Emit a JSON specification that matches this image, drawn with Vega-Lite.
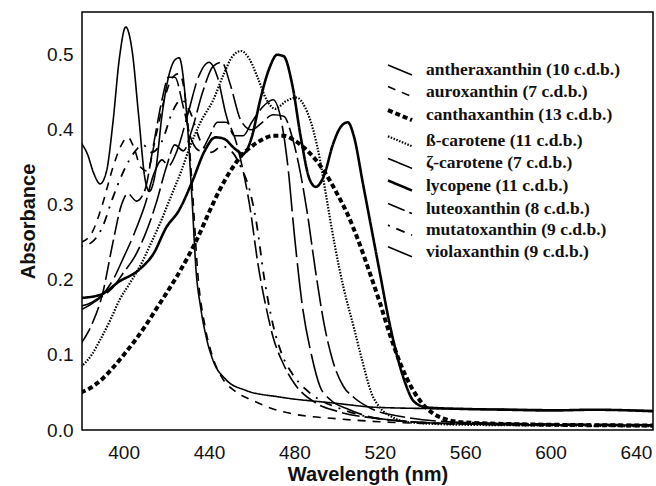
{
  "$schema": "https://vega.github.io/schema/vega-lite/v6.json",
  "width": 571,
  "height": 418,
  "autosize": {"type": "none"},
  "padding": {"left": 82, "top": 12, "right": 3, "bottom": 56},
  "config": {
    "view": {"stroke": "#000", "strokeWidth": 1.5},
    "axis": {"grid": false, "ticks": false, "domain": false, "labelFont": "Liberation Sans", "labelFontSize": 19, "labelColor": "#111", "titleFont": "Liberation Sans", "titleFontSize": 20, "titleFontWeight": "bold", "titleColor": "#111"}
  },
  "data": {"values": [
    {"p":"ζ-carotene (7 c.d.b.)","x":380,"y":0.383},{"p":"ζ-carotene (7 c.d.b.)","x":383,"y":0.368},{"p":"ζ-carotene (7 c.d.b.)","x":386,"y":0.342},{"p":"ζ-carotene (7 c.d.b.)","x":389,"y":0.328},{"p":"ζ-carotene (7 c.d.b.)","x":392,"y":0.345},{"p":"ζ-carotene (7 c.d.b.)","x":395,"y":0.41},{"p":"ζ-carotene (7 c.d.b.)","x":398,"y":0.495},{"p":"ζ-carotene (7 c.d.b.)","x":401,"y":0.537},{"p":"ζ-carotene (7 c.d.b.)","x":404,"y":0.505},{"p":"ζ-carotene (7 c.d.b.)","x":407,"y":0.42},{"p":"ζ-carotene (7 c.d.b.)","x":410,"y":0.335},{"p":"ζ-carotene (7 c.d.b.)","x":412,"y":0.318},{"p":"ζ-carotene (7 c.d.b.)","x":415,"y":0.345},{"p":"ζ-carotene (7 c.d.b.)","x":418,"y":0.42},{"p":"ζ-carotene (7 c.d.b.)","x":421,"y":0.47},{"p":"ζ-carotene (7 c.d.b.)","x":424,"y":0.493},{"p":"ζ-carotene (7 c.d.b.)","x":426,"y":0.496},{"p":"ζ-carotene (7 c.d.b.)","x":429,"y":0.44},{"p":"ζ-carotene (7 c.d.b.)","x":432,"y":0.31},{"p":"ζ-carotene (7 c.d.b.)","x":434,"y":0.21},{"p":"ζ-carotene (7 c.d.b.)","x":436,"y":0.165},{"p":"ζ-carotene (7 c.d.b.)","x":439,"y":0.12},{"p":"ζ-carotene (7 c.d.b.)","x":442,"y":0.092},{"p":"ζ-carotene (7 c.d.b.)","x":448,"y":0.067},{"p":"ζ-carotene (7 c.d.b.)","x":457,"y":0.053},{"p":"ζ-carotene (7 c.d.b.)","x":473,"y":0.044},{"p":"ζ-carotene (7 c.d.b.)","x":498,"y":0.036},{"p":"ζ-carotene (7 c.d.b.)","x":520,"y":0.03},{"p":"ζ-carotene (7 c.d.b.)","x":560,"y":0.028},{"p":"ζ-carotene (7 c.d.b.)","x":600,"y":0.027},{"p":"ζ-carotene (7 c.d.b.)","x":648,"y":0.026},

    {"p":"lycopene (11 c.d.b.)","x":380,"y":0.176},{"p":"lycopene (11 c.d.b.)","x":389,"y":0.18},{"p":"lycopene (11 c.d.b.)","x":398,"y":0.198},{"p":"lycopene (11 c.d.b.)","x":407,"y":0.213},{"p":"lycopene (11 c.d.b.)","x":414,"y":0.235},{"p":"lycopene (11 c.d.b.)","x":420,"y":0.27},{"p":"lycopene (11 c.d.b.)","x":426,"y":0.293},{"p":"lycopene (11 c.d.b.)","x":432,"y":0.33},{"p":"lycopene (11 c.d.b.)","x":438,"y":0.372},{"p":"lycopene (11 c.d.b.)","x":443,"y":0.39},{"p":"lycopene (11 c.d.b.)","x":447,"y":0.388},{"p":"lycopene (11 c.d.b.)","x":452,"y":0.375},{"p":"lycopene (11 c.d.b.)","x":456,"y":0.368},{"p":"lycopene (11 c.d.b.)","x":460,"y":0.39},{"p":"lycopene (11 c.d.b.)","x":464,"y":0.44},{"p":"lycopene (11 c.d.b.)","x":468,"y":0.48},{"p":"lycopene (11 c.d.b.)","x":472,"y":0.5},{"p":"lycopene (11 c.d.b.)","x":475,"y":0.498},{"p":"lycopene (11 c.d.b.)","x":479,"y":0.46},{"p":"lycopene (11 c.d.b.)","x":483,"y":0.39},{"p":"lycopene (11 c.d.b.)","x":487,"y":0.335},{"p":"lycopene (11 c.d.b.)","x":490,"y":0.324},{"p":"lycopene (11 c.d.b.)","x":494,"y":0.34},{"p":"lycopene (11 c.d.b.)","x":498,"y":0.38},{"p":"lycopene (11 c.d.b.)","x":502,"y":0.405},{"p":"lycopene (11 c.d.b.)","x":505,"y":0.41},{"p":"lycopene (11 c.d.b.)","x":508,"y":0.39},{"p":"lycopene (11 c.d.b.)","x":512,"y":0.33},{"p":"lycopene (11 c.d.b.)","x":516,"y":0.27},{"p":"lycopene (11 c.d.b.)","x":520,"y":0.21},{"p":"lycopene (11 c.d.b.)","x":524,"y":0.15},{"p":"lycopene (11 c.d.b.)","x":528,"y":0.1},{"p":"lycopene (11 c.d.b.)","x":532,"y":0.062},{"p":"lycopene (11 c.d.b.)","x":536,"y":0.038},{"p":"lycopene (11 c.d.b.)","x":542,"y":0.03},{"p":"lycopene (11 c.d.b.)","x":560,"y":0.028},{"p":"lycopene (11 c.d.b.)","x":580,"y":0.027},{"p":"lycopene (11 c.d.b.)","x":600,"y":0.026},{"p":"lycopene (11 c.d.b.)","x":620,"y":0.027},{"p":"lycopene (11 c.d.b.)","x":648,"y":0.025},

    {"p":"ß-carotene (11 c.d.b.)","x":380,"y":0.084},{"p":"ß-carotene (11 c.d.b.)","x":385,"y":0.1},{"p":"ß-carotene (11 c.d.b.)","x":389,"y":0.12},{"p":"ß-carotene (11 c.d.b.)","x":394,"y":0.148},{"p":"ß-carotene (11 c.d.b.)","x":398,"y":0.173},{"p":"ß-carotene (11 c.d.b.)","x":403,"y":0.196},{"p":"ß-carotene (11 c.d.b.)","x":408,"y":0.22},{"p":"ß-carotene (11 c.d.b.)","x":413,"y":0.25},{"p":"ß-carotene (11 c.d.b.)","x":417,"y":0.275},{"p":"ß-carotene (11 c.d.b.)","x":422,"y":0.31},{"p":"ß-carotene (11 c.d.b.)","x":427,"y":0.345},{"p":"ß-carotene (11 c.d.b.)","x":431,"y":0.377},{"p":"ß-carotene (11 c.d.b.)","x":436,"y":0.41},{"p":"ß-carotene (11 c.d.b.)","x":442,"y":0.44},{"p":"ß-carotene (11 c.d.b.)","x":447,"y":0.475},{"p":"ß-carotene (11 c.d.b.)","x":451,"y":0.498},{"p":"ß-carotene (11 c.d.b.)","x":455,"y":0.505},{"p":"ß-carotene (11 c.d.b.)","x":459,"y":0.494},{"p":"ß-carotene (11 c.d.b.)","x":463,"y":0.468},{"p":"ß-carotene (11 c.d.b.)","x":467,"y":0.44},{"p":"ß-carotene (11 c.d.b.)","x":471,"y":0.428},{"p":"ß-carotene (11 c.d.b.)","x":476,"y":0.438},{"p":"ß-carotene (11 c.d.b.)","x":481,"y":0.443},{"p":"ß-carotene (11 c.d.b.)","x":485,"y":0.43},{"p":"ß-carotene (11 c.d.b.)","x":489,"y":0.398},{"p":"ß-carotene (11 c.d.b.)","x":492,"y":0.36},{"p":"ß-carotene (11 c.d.b.)","x":495,"y":0.31},{"p":"ß-carotene (11 c.d.b.)","x":499,"y":0.245},{"p":"ß-carotene (11 c.d.b.)","x":503,"y":0.19},{"p":"ß-carotene (11 c.d.b.)","x":508,"y":0.135},{"p":"ß-carotene (11 c.d.b.)","x":512,"y":0.09},{"p":"ß-carotene (11 c.d.b.)","x":516,"y":0.05},{"p":"ß-carotene (11 c.d.b.)","x":520,"y":0.03},{"p":"ß-carotene (11 c.d.b.)","x":526,"y":0.017},{"p":"ß-carotene (11 c.d.b.)","x":535,"y":0.01},{"p":"ß-carotene (11 c.d.b.)","x":560,"y":0.007},{"p":"ß-carotene (11 c.d.b.)","x":600,"y":0.006},{"p":"ß-carotene (11 c.d.b.)","x":648,"y":0.005},

    {"p":"canthaxanthin (13 c.d.b.)","x":380,"y":0.05},{"p":"canthaxanthin (13 c.d.b.)","x":385,"y":0.057},{"p":"canthaxanthin (13 c.d.b.)","x":390,"y":0.068},{"p":"canthaxanthin (13 c.d.b.)","x":395,"y":0.083},{"p":"canthaxanthin (13 c.d.b.)","x":400,"y":0.1},{"p":"canthaxanthin (13 c.d.b.)","x":405,"y":0.118},{"p":"canthaxanthin (13 c.d.b.)","x":410,"y":0.138},{"p":"canthaxanthin (13 c.d.b.)","x":415,"y":0.16},{"p":"canthaxanthin (13 c.d.b.)","x":420,"y":0.182},{"p":"canthaxanthin (13 c.d.b.)","x":425,"y":0.205},{"p":"canthaxanthin (13 c.d.b.)","x":430,"y":0.23},{"p":"canthaxanthin (13 c.d.b.)","x":435,"y":0.258},{"p":"canthaxanthin (13 c.d.b.)","x":440,"y":0.29},{"p":"canthaxanthin (13 c.d.b.)","x":445,"y":0.32},{"p":"canthaxanthin (13 c.d.b.)","x":450,"y":0.345},{"p":"canthaxanthin (13 c.d.b.)","x":455,"y":0.365},{"p":"canthaxanthin (13 c.d.b.)","x":460,"y":0.378},{"p":"canthaxanthin (13 c.d.b.)","x":465,"y":0.387},{"p":"canthaxanthin (13 c.d.b.)","x":470,"y":0.392},{"p":"canthaxanthin (13 c.d.b.)","x":475,"y":0.392},{"p":"canthaxanthin (13 c.d.b.)","x":480,"y":0.386},{"p":"canthaxanthin (13 c.d.b.)","x":485,"y":0.375},{"p":"canthaxanthin (13 c.d.b.)","x":490,"y":0.36},{"p":"canthaxanthin (13 c.d.b.)","x":495,"y":0.34},{"p":"canthaxanthin (13 c.d.b.)","x":500,"y":0.315},{"p":"canthaxanthin (13 c.d.b.)","x":505,"y":0.287},{"p":"canthaxanthin (13 c.d.b.)","x":510,"y":0.252},{"p":"canthaxanthin (13 c.d.b.)","x":515,"y":0.212},{"p":"canthaxanthin (13 c.d.b.)","x":520,"y":0.17},{"p":"canthaxanthin (13 c.d.b.)","x":525,"y":0.125},{"p":"canthaxanthin (13 c.d.b.)","x":530,"y":0.086},{"p":"canthaxanthin (13 c.d.b.)","x":535,"y":0.056},{"p":"canthaxanthin (13 c.d.b.)","x":540,"y":0.035},{"p":"canthaxanthin (13 c.d.b.)","x":545,"y":0.022},{"p":"canthaxanthin (13 c.d.b.)","x":550,"y":0.015},{"p":"canthaxanthin (13 c.d.b.)","x":560,"y":0.01},{"p":"canthaxanthin (13 c.d.b.)","x":600,"y":0.007},{"p":"canthaxanthin (13 c.d.b.)","x":648,"y":0.006},

    {"p":"auroxanthin (7 c.d.b.)","x":380,"y":0.25},{"p":"auroxanthin (7 c.d.b.)","x":385,"y":0.262},{"p":"auroxanthin (7 c.d.b.)","x":390,"y":0.3},{"p":"auroxanthin (7 c.d.b.)","x":395,"y":0.35},{"p":"auroxanthin (7 c.d.b.)","x":399,"y":0.38},{"p":"auroxanthin (7 c.d.b.)","x":402,"y":0.39},{"p":"auroxanthin (7 c.d.b.)","x":405,"y":0.375},{"p":"auroxanthin (7 c.d.b.)","x":408,"y":0.35},{"p":"auroxanthin (7 c.d.b.)","x":411,"y":0.345},{"p":"auroxanthin (7 c.d.b.)","x":415,"y":0.39},{"p":"auroxanthin (7 c.d.b.)","x":419,"y":0.44},{"p":"auroxanthin (7 c.d.b.)","x":423,"y":0.47},{"p":"auroxanthin (7 c.d.b.)","x":426,"y":0.475},{"p":"auroxanthin (7 c.d.b.)","x":429,"y":0.44},{"p":"auroxanthin (7 c.d.b.)","x":432,"y":0.33},{"p":"auroxanthin (7 c.d.b.)","x":435,"y":0.2},{"p":"auroxanthin (7 c.d.b.)","x":438,"y":0.14},{"p":"auroxanthin (7 c.d.b.)","x":442,"y":0.095},{"p":"auroxanthin (7 c.d.b.)","x":446,"y":0.07},{"p":"auroxanthin (7 c.d.b.)","x":452,"y":0.052},{"p":"auroxanthin (7 c.d.b.)","x":460,"y":0.04},{"p":"auroxanthin (7 c.d.b.)","x":470,"y":0.028},{"p":"auroxanthin (7 c.d.b.)","x":480,"y":0.021},{"p":"auroxanthin (7 c.d.b.)","x":500,"y":0.015},{"p":"auroxanthin (7 c.d.b.)","x":520,"y":0.011},{"p":"auroxanthin (7 c.d.b.)","x":560,"y":0.008},{"p":"auroxanthin (7 c.d.b.)","x":648,"y":0.006},

    {"p":"mutatoxanthin (9 c.d.b.)","x":380,"y":0.245},{"p":"mutatoxanthin (9 c.d.b.)","x":385,"y":0.25},{"p":"mutatoxanthin (9 c.d.b.)","x":390,"y":0.27},{"p":"mutatoxanthin (9 c.d.b.)","x":395,"y":0.31},{"p":"mutatoxanthin (9 c.d.b.)","x":400,"y":0.345},{"p":"mutatoxanthin (9 c.d.b.)","x":405,"y":0.37},{"p":"mutatoxanthin (9 c.d.b.)","x":409,"y":0.38},{"p":"mutatoxanthin (9 c.d.b.)","x":413,"y":0.37},{"p":"mutatoxanthin (9 c.d.b.)","x":418,"y":0.385},{"p":"mutatoxanthin (9 c.d.b.)","x":423,"y":0.425},{"p":"mutatoxanthin (9 c.d.b.)","x":427,"y":0.44},{"p":"mutatoxanthin (9 c.d.b.)","x":431,"y":0.425},{"p":"mutatoxanthin (9 c.d.b.)","x":436,"y":0.385},{"p":"mutatoxanthin (9 c.d.b.)","x":441,"y":0.37},{"p":"mutatoxanthin (9 c.d.b.)","x":446,"y":0.378},{"p":"mutatoxanthin (9 c.d.b.)","x":451,"y":0.37},{"p":"mutatoxanthin (9 c.d.b.)","x":455,"y":0.35},{"p":"mutatoxanthin (9 c.d.b.)","x":459,"y":0.32},{"p":"mutatoxanthin (9 c.d.b.)","x":462,"y":0.28},{"p":"mutatoxanthin (9 c.d.b.)","x":466,"y":0.2},{"p":"mutatoxanthin (9 c.d.b.)","x":470,"y":0.14},{"p":"mutatoxanthin (9 c.d.b.)","x":474,"y":0.102},{"p":"mutatoxanthin (9 c.d.b.)","x":479,"y":0.075},{"p":"mutatoxanthin (9 c.d.b.)","x":485,"y":0.055},{"p":"mutatoxanthin (9 c.d.b.)","x":492,"y":0.04},{"p":"mutatoxanthin (9 c.d.b.)","x":500,"y":0.03},{"p":"mutatoxanthin (9 c.d.b.)","x":520,"y":0.015},{"p":"mutatoxanthin (9 c.d.b.)","x":560,"y":0.008},{"p":"mutatoxanthin (9 c.d.b.)","x":648,"y":0.006},

    {"p":"luteoxanthin (8 c.d.b.)","x":380,"y":0.115},{"p":"luteoxanthin (8 c.d.b.)","x":385,"y":0.14},{"p":"luteoxanthin (8 c.d.b.)","x":390,"y":0.18},{"p":"luteoxanthin (8 c.d.b.)","x":395,"y":0.25},{"p":"luteoxanthin (8 c.d.b.)","x":399,"y":0.3},{"p":"luteoxanthin (8 c.d.b.)","x":402,"y":0.315},{"p":"luteoxanthin (8 c.d.b.)","x":406,"y":0.305},{"p":"luteoxanthin (8 c.d.b.)","x":410,"y":0.32},{"p":"luteoxanthin (8 c.d.b.)","x":414,"y":0.38},{"p":"luteoxanthin (8 c.d.b.)","x":418,"y":0.44},{"p":"luteoxanthin (8 c.d.b.)","x":421,"y":0.47},{"p":"luteoxanthin (8 c.d.b.)","x":424,"y":0.47},{"p":"luteoxanthin (8 c.d.b.)","x":428,"y":0.43},{"p":"luteoxanthin (8 c.d.b.)","x":432,"y":0.385},{"p":"luteoxanthin (8 c.d.b.)","x":436,"y":0.372},{"p":"luteoxanthin (8 c.d.b.)","x":440,"y":0.39},{"p":"luteoxanthin (8 c.d.b.)","x":444,"y":0.41},{"p":"luteoxanthin (8 c.d.b.)","x":448,"y":0.41},{"p":"luteoxanthin (8 c.d.b.)","x":452,"y":0.39},{"p":"luteoxanthin (8 c.d.b.)","x":456,"y":0.345},{"p":"luteoxanthin (8 c.d.b.)","x":459,"y":0.3},{"p":"luteoxanthin (8 c.d.b.)","x":463,"y":0.22},{"p":"luteoxanthin (8 c.d.b.)","x":467,"y":0.16},{"p":"luteoxanthin (8 c.d.b.)","x":470,"y":0.124},{"p":"luteoxanthin (8 c.d.b.)","x":475,"y":0.087},{"p":"luteoxanthin (8 c.d.b.)","x":480,"y":0.062},{"p":"luteoxanthin (8 c.d.b.)","x":490,"y":0.036},{"p":"luteoxanthin (8 c.d.b.)","x":500,"y":0.025},{"p":"luteoxanthin (8 c.d.b.)","x":520,"y":0.015},{"p":"luteoxanthin (8 c.d.b.)","x":560,"y":0.008},{"p":"luteoxanthin (8 c.d.b.)","x":648,"y":0.006},

    {"p":"violaxanthin (9 c.d.b.)","x":380,"y":0.165},{"p":"violaxanthin (9 c.d.b.)","x":385,"y":0.17},{"p":"violaxanthin (9 c.d.b.)","x":390,"y":0.18},{"p":"violaxanthin (9 c.d.b.)","x":395,"y":0.2},{"p":"violaxanthin (9 c.d.b.)","x":400,"y":0.23},{"p":"violaxanthin (9 c.d.b.)","x":405,"y":0.262},{"p":"violaxanthin (9 c.d.b.)","x":410,"y":0.3},{"p":"violaxanthin (9 c.d.b.)","x":414,"y":0.34},{"p":"violaxanthin (9 c.d.b.)","x":418,"y":0.36},{"p":"violaxanthin (9 c.d.b.)","x":421,"y":0.352},{"p":"violaxanthin (9 c.d.b.)","x":425,"y":0.372},{"p":"violaxanthin (9 c.d.b.)","x":430,"y":0.42},{"p":"violaxanthin (9 c.d.b.)","x":435,"y":0.47},{"p":"violaxanthin (9 c.d.b.)","x":440,"y":0.49},{"p":"violaxanthin (9 c.d.b.)","x":444,"y":0.47},{"p":"violaxanthin (9 c.d.b.)","x":448,"y":0.42},{"p":"violaxanthin (9 c.d.b.)","x":452,"y":0.392},{"p":"violaxanthin (9 c.d.b.)","x":456,"y":0.392},{"p":"violaxanthin (9 c.d.b.)","x":460,"y":0.41},{"p":"violaxanthin (9 c.d.b.)","x":465,"y":0.43},{"p":"violaxanthin (9 c.d.b.)","x":470,"y":0.44},{"p":"violaxanthin (9 c.d.b.)","x":474,"y":0.41},{"p":"violaxanthin (9 c.d.b.)","x":477,"y":0.35},{"p":"violaxanthin (9 c.d.b.)","x":480,"y":0.26},{"p":"violaxanthin (9 c.d.b.)","x":484,"y":0.16},{"p":"violaxanthin (9 c.d.b.)","x":488,"y":0.1},{"p":"violaxanthin (9 c.d.b.)","x":492,"y":0.058},{"p":"violaxanthin (9 c.d.b.)","x":497,"y":0.04},{"p":"violaxanthin (9 c.d.b.)","x":505,"y":0.028},{"p":"violaxanthin (9 c.d.b.)","x":520,"y":0.015},{"p":"violaxanthin (9 c.d.b.)","x":560,"y":0.008},{"p":"violaxanthin (9 c.d.b.)","x":648,"y":0.006},

    {"p":"antheraxanthin (10 c.d.b.)","x":380,"y":0.16},{"p":"antheraxanthin (10 c.d.b.)","x":385,"y":0.168},{"p":"antheraxanthin (10 c.d.b.)","x":390,"y":0.178},{"p":"antheraxanthin (10 c.d.b.)","x":395,"y":0.19},{"p":"antheraxanthin (10 c.d.b.)","x":400,"y":0.21},{"p":"antheraxanthin (10 c.d.b.)","x":405,"y":0.23},{"p":"antheraxanthin (10 c.d.b.)","x":410,"y":0.26},{"p":"antheraxanthin (10 c.d.b.)","x":415,"y":0.3},{"p":"antheraxanthin (10 c.d.b.)","x":420,"y":0.35},{"p":"antheraxanthin (10 c.d.b.)","x":424,"y":0.38},{"p":"antheraxanthin (10 c.d.b.)","x":428,"y":0.372},{"p":"antheraxanthin (10 c.d.b.)","x":432,"y":0.4},{"p":"antheraxanthin (10 c.d.b.)","x":437,"y":0.45},{"p":"antheraxanthin (10 c.d.b.)","x":442,"y":0.485},{"p":"antheraxanthin (10 c.d.b.)","x":446,"y":0.49},{"p":"antheraxanthin (10 c.d.b.)","x":450,"y":0.46},{"p":"antheraxanthin (10 c.d.b.)","x":455,"y":0.412},{"p":"antheraxanthin (10 c.d.b.)","x":460,"y":0.4},{"p":"antheraxanthin (10 c.d.b.)","x":465,"y":0.41},{"p":"antheraxanthin (10 c.d.b.)","x":470,"y":0.42},{"p":"antheraxanthin (10 c.d.b.)","x":475,"y":0.418},{"p":"antheraxanthin (10 c.d.b.)","x":479,"y":0.39},{"p":"antheraxanthin (10 c.d.b.)","x":483,"y":0.34},{"p":"antheraxanthin (10 c.d.b.)","x":486,"y":0.29},{"p":"antheraxanthin (10 c.d.b.)","x":490,"y":0.21},{"p":"antheraxanthin (10 c.d.b.)","x":494,"y":0.14},{"p":"antheraxanthin (10 c.d.b.)","x":498,"y":0.092},{"p":"antheraxanthin (10 c.d.b.)","x":503,"y":0.058},{"p":"antheraxanthin (10 c.d.b.)","x":508,"y":0.043},{"p":"antheraxanthin (10 c.d.b.)","x":515,"y":0.03},{"p":"antheraxanthin (10 c.d.b.)","x":530,"y":0.018},{"p":"antheraxanthin (10 c.d.b.)","x":560,"y":0.01},{"p":"antheraxanthin (10 c.d.b.)","x":648,"y":0.007}
  ]},
  "mark": {"type": "line", "interpolate": "monotone", "color": "#000", "clip": true},
  "encoding": {
    "x": {"field": "x", "type": "quantitative", "title": "Wavelength (nm)",
      "scale": {"domain": [380.5, 648], "nice": false, "zero": false},
      "axis": {"values": [400, 440, 480, 520, 560, 600, 640], "labelPadding": 13, "titlePadding": 2}},
    "y": {"field": "y", "type": "quantitative", "title": "Absorbance",
      "scale": {"domain": [0, 0.557], "nice": false},
      "axis": {"values": [0, 0.1, 0.2, 0.3, 0.4, 0.5], "format": ".1f", "labelPadding": 9, "titlePadding": 8}},
    "strokeDash": {"field": "p", "type": "nominal", "title": null,
      "scale": {"domain": ["antheraxanthin (10 c.d.b.)", "auroxanthin (7 c.d.b.)", "canthaxanthin (13 c.d.b.)", "ß-carotene (11 c.d.b.)", "ζ-carotene (7 c.d.b.)", "lycopene (11 c.d.b.)", "luteoxanthin (8 c.d.b.)", "mutatoxanthin (9 c.d.b.)", "violaxanthin (9 c.d.b.)"],
        "range": [[26, 5], [8, 7], [5, 3], [1.5, 1.5], [1, 0], [1, 0], [18, 5], [2, 7, 9, 7], [40, 6]]},
      "legend": {"orient": "none", "legendX": 306, "legendY": 47, "symbolType": "M-1.2,-0.5L1.2,0.5", "symbolSize": 400, "symbolStrokeColor": "#000", "labelFont": "Liberation Serif", "labelFontWeight": "bold", "labelFontSize": 17.5, "labelColor": "#111", "labelLimit": 400, "rowPadding": 1.6, "labelOffset": 14}},
    "strokeWidth": {"field": "p", "type": "nominal", "title": null,
      "scale": {"type": "ordinal", "domain": ["antheraxanthin (10 c.d.b.)", "auroxanthin (7 c.d.b.)", "canthaxanthin (13 c.d.b.)", "ß-carotene (11 c.d.b.)", "ζ-carotene (7 c.d.b.)", "lycopene (11 c.d.b.)", "luteoxanthin (8 c.d.b.)", "mutatoxanthin (9 c.d.b.)", "violaxanthin (9 c.d.b.)"],
        "range": [1.6, 1.6, 4, 2.2, 1.6, 2.6, 1.6, 1.8, 1.6]}}
  }
}
